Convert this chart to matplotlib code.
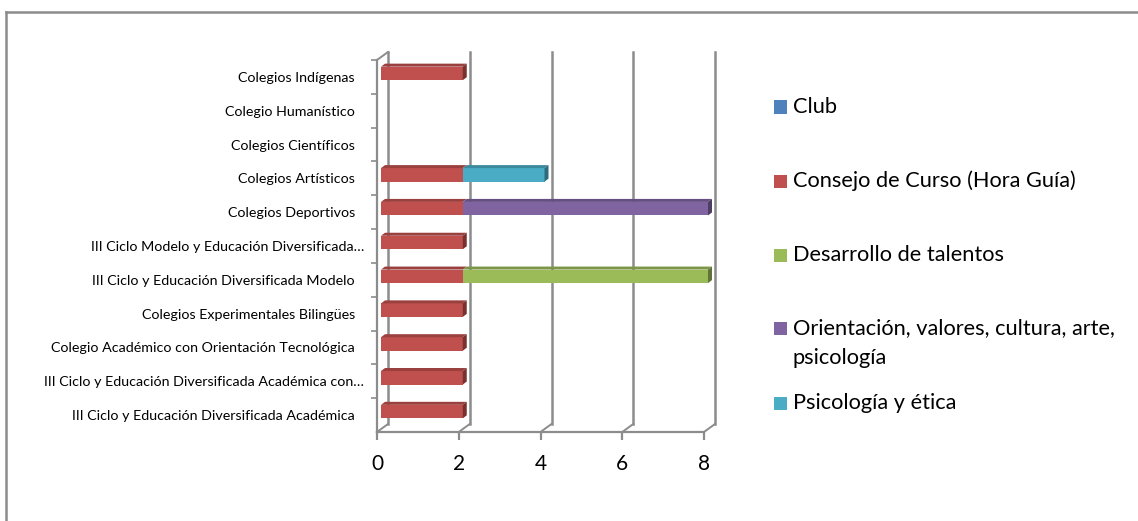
import matplotlib
matplotlib.use("Agg")
import matplotlib.pyplot as plt
from matplotlib.patches import Rectangle, Polygon
from matplotlib.lines import Line2D
from matplotlib.transforms import ScaledTranslation, IdentityTransform
import numpy as np

plt.rcParams['font.family'] = ['Lato', 'DejaVu Sans']

categories = [
    "Colegios Indígenas",
    "Colegio Humanístico",
    "Colegios Científicos",
    "Colegios Artísticos",
    "Colegios Deportivos",
    "III Ciclo Modelo y Educación Diversificada…",
    "III Ciclo y Educación Diversificada Modelo",
    "Colegios Experimentales Bilingües",
    "Colegio Académico con Orientación Tecnológica",
    "III Ciclo y Educación Diversificada Académica con…",
    "III Ciclo y Educación Diversificada Académica",
]
series_names = [
    "Club",
    "Consejo de Curso (Hora Guía)",
    "Desarrollo de talentos",
    "Orientación, valores, cultura, arte,\npsicología",
    "Psicología y ética",
]
club = [0, 0, 0, 0, 0, 0, 0, 0, 0, 0, 0]
consejo = [2, 0, 0, 2, 2, 2, 2, 2, 2, 2, 2]
desarrollo = [0, 0, 0, 0, 0, 0, 6, 0, 0, 0, 0]
orientacion = [0, 0, 0, 0, 6, 0, 0, 0, 0, 0, 0]
psicologia = [0, 0, 0, 2, 0, 0, 0, 0, 0, 0, 0]
x_ticks = [0, 2, 4, 6, 8]

colors = ["#4F81BD", "#C0504D", "#9BBB59", "#8064A2", "#4BACC6"]
series = [club, consejo, desarrollo, orientacion, psicologia]

W, H, DPI = 1138, 521, 100
fig = plt.figure(figsize=(W / DPI, H / DPI), dpi=DPI)
fig.patch.set_facecolor("white")

# front plane of the 3-D plot area, in pixels
left_px, right_px, top_px, bottom_px = 377, 704, 60, 432
ax = fig.add_axes([left_px / W, (H - bottom_px) / H,
                   (right_px - left_px) / W, (bottom_px - top_px) / H])
ax.set_xlim(0, 8)
n = len(categories)
ax.set_ylim(n - 0.5, -0.5)
ax.set_facecolor("none")
for s in ["top", "right"]:
    ax.spines[s].set_visible(False)
grid_c = "#8c8c8c"
for s in ["left", "bottom"]:
    ax.spines[s].set_color(grid_c)
    ax.spines[s].set_linewidth(1.6)

ax.set_xticks(x_ticks)
ax.set_xticklabels([str(v) for v in x_ticks], fontsize=15, color="#000000")
ax.tick_params(axis="x", direction="out", length=6, width=1.6, color=grid_c, pad=10)
ax.set_yticks(np.arange(n) - 0.5, minor=False)
ax.set_yticklabels([])
ax.tick_params(axis="y", direction="out", length=4, width=1.2, color=grid_c)
ax.set_yticks(np.arange(n), minor=True)
ax.set_yticklabels(categories, minor=True, fontsize=10.3, color="#000000")
ax.tick_params(axis="y", which="minor", length=0, pad=15.8)
# truncated names run a little further right
for lab in ax.get_yticklabels(minor=True):
    if lab.get_text().endswith("…"):
        lab.set_transform(lab.get_transform() + ScaledTranslation(9 / DPI, 0, fig.dpi_scale_trans))

# depth of the back wall and of the bars (display pixels)
back = np.array([11.0, 8.0])
bar_front = np.array([4.0, 3.5])
bar_depth = np.array([4.0, 3.0])

ident = IdentityTransform()
back_tr = ax.transData + ScaledTranslation(back[0] / DPI, back[1] / DPI, fig.dpi_scale_trans)
front_bar_tr = ax.transData + ScaledTranslation(bar_front[0] / DPI, bar_front[1] / DPI,
                                                fig.dpi_scale_trans)

# back-wall gridlines and floor diagonals
for xv in x_ticks:
    ax.plot([xv, xv], [n - 0.5, -0.5], color=grid_c, lw=1.8, transform=back_tr,
            clip_on=False, zorder=1)
    p = ax.transData.transform((xv, n - 0.5))
    fig.add_artist(Line2D([p[0], p[0] + back[0]], [p[1], p[1] + back[1]],
                          color=grid_c, lw=1.4, transform=ident))
p = ax.transData.transform((0, -0.5))
fig.add_artist(Line2D([p[0], p[0] + back[0]], [p[1], p[1] + back[1]],
                      color=grid_c, lw=1.4, transform=ident))


def shade(hexc, f):
    rgb = np.array(matplotlib.colors.to_rgb(hexc))
    return tuple(rgb * f)


bar_h = 0.4
for i in range(n):
    start = 0.0
    segs = []
    for k, vals in enumerate(series):
        v = vals[i]
        if v > 0:
            segs.append((start, start + v, colors[k]))
        start += v
    for j, (x0, x1, c) in enumerate(segs):
        ax.add_patch(Rectangle((x0, i - bar_h / 2), x1 - x0, bar_h, facecolor=c,
                               edgecolor="none", transform=front_bar_tr, zorder=3,
                               clip_on=False))
        tl = ax.transData.transform((x0, i - bar_h / 2)) + bar_front
        tr_ = ax.transData.transform((x1, i - bar_h / 2)) + bar_front
        br = ax.transData.transform((x1, i + bar_h / 2)) + bar_front
        top_poly = [tl, tr_, tr_ + bar_depth, tl + bar_depth]
        fig.add_artist(Polygon(top_poly, closed=True, facecolor=shade(c, 0.8),
                               edgecolor="none", transform=ident, zorder=3))
        if j == len(segs) - 1:
            side_poly = [tr_, tr_ + bar_depth, br + bar_depth, br]
            fig.add_artist(Polygon(side_poly, closed=True, facecolor=shade(c, 0.62),
                                   edgecolor="none", transform=ident, zorder=3))

# legend
leg_x_sq, leg_x_txt = 774, 793
leg_rows = [107, 181, 255, 328, 403]
line_step = 30
for k, name in enumerate(series_names):
    yc = leg_rows[k]
    fig.add_artist(Rectangle((leg_x_sq / W, (H - yc - 6.5) / H), 13 / W, 13 / H,
                             facecolor=colors[k], edgecolor="none",
                             transform=fig.transFigure))
    for li, line in enumerate(name.split("\n")):
        fig.text(leg_x_txt / W, (H - yc - li * line_step) / H, line, fontsize=15.7,
                 va="center", ha="left", color="#000000")

# outer frame lines
fig.add_artist(Line2D([6 / W, 6 / W], [0, (H - 12) / H], color="#8c8c8c", lw=1.8,
                      transform=fig.transFigure))
fig.add_artist(Line2D([6 / W, 1], [(H - 12) / H, (H - 12) / H], color="#8c8c8c", lw=1.8,
                      transform=fig.transFigure))

fig.savefig("out.png", dpi=DPI, facecolor="white")
